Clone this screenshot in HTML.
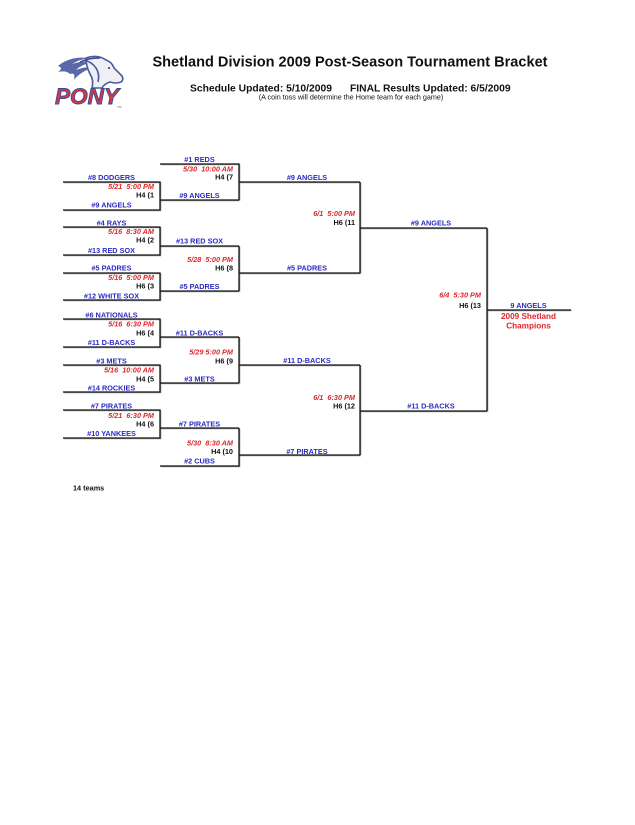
<!DOCTYPE html>
<html>
<head>
<meta charset="utf-8">
<style>
html,body{margin:0;padding:0;background:#fff;}
body{width:635px;height:825px;overflow:hidden;}
svg{display:block;}
text{font-family:"Liberation Sans",Arial,sans-serif;font-weight:bold;white-space:pre;}
.b{fill:#2b2bc4;font-size:7.3px;text-anchor:middle;}
.r{fill:#e0262b;font-size:7.3px;font-style:italic;text-anchor:end;}
.k{fill:#111;font-size:7.3px;text-anchor:end;}
</style>
</head>
<body>
<svg width="635" height="825" viewBox="0 0 635 825" xmlns="http://www.w3.org/2000/svg">
<!-- Logo -->
<g>
  <path d="M58 66 Q70 56 88 58 Q78 60 72 64 Q84 60 94 62 Q82 64 76 70 Q86 66 92 68 Q80 72 74 80 Q76 72 70 74 Q66 70 58 72 Q64 68 58 66 Z" fill="#5a67a8"/>
  <path d="M86 58 Q98 54 106 60 Q112 62 114 68 L122 76 Q124 80 121 82 Q116 84 110 82 Q104 84 102 88 L92 88 Q94 80 90 74 Q86 66 86 58 Z" fill="#eef0f6" stroke="#4d5a9c" stroke-width="1.6"/>
  <path d="M84 60 Q92 62 96 68 Q100 74 98 82" fill="none" stroke="#4d5a9c" stroke-width="1.6"/>
  <path d="M80 62 Q88 58 100 58" fill="none" stroke="#3d4a8e" stroke-width="1.4"/>
  <circle cx="109" cy="68" r="1" fill="#333"/>
  <text x="55" y="104" style="font-size:22px;font-style:italic;fill:#d9363e;stroke:#3a4a9a;stroke-width:0.9px;" textLength="64" lengthAdjust="spacingAndGlyphs">PONY</text>
  <text x="117" y="108" style="font-size:3px;fill:#666;font-weight:normal;">TM</text>
</g>
<!-- Header -->
<text x="350" y="66.5" style="font-size:14.55px;fill:#111;text-anchor:middle;">Shetland Division 2009 Post-Season Tournament Bracket</text>
<text x="190" y="91.5" style="font-size:10.3px;fill:#111;">Schedule Updated: 5/10/2009</text>
<text x="350" y="91.5" style="font-size:10.3px;fill:#111;">FINAL Results Updated: 6/5/2009</text>
<text x="351" y="99.5" style="font-size:7.2px;fill:#111;font-weight:normal;text-anchor:middle;">(A coin toss will determine the Home team for each game)</text>

<!-- Bracket lines -->
<g stroke="#9a9a9a" stroke-width="1" fill="none" transform="translate(0.8,0.8)">
  <path d="M63 182H160V210H63 M160 200H239 M63 227H160V255H63 M160 246H239 M63 273H160V300H63 M160 291H239 M160 164H239V200 M239 182H360 M239 246V291 M239 273H360 M360 182V273 M360 228H487 M63 319H160V347H63 M160 337H239 M63 365H160V392H63 M160 383H239 M239 337V383 M239 365H360 M63 410H160V438H63 M160 428H239 M160 466H239V428 M239 455H360 M360 365V455 M360 411H487 M487 228V411 M487 310H571"/>
</g>
<g stroke="#151515" stroke-width="1.3" fill="none">
  <path d="M63 182H160V210H63 M160 200H239 M63 227H160V255H63 M160 246H239 M63 273H160V300H63 M160 291H239 M160 164H239V200 M239 182H360 M239 246V291 M239 273H360 M360 182V273 M360 228H487 M63 319H160V347H63 M160 337H239 M63 365H160V392H63 M160 383H239 M239 337V383 M239 365H360 M63 410H160V438H63 M160 428H239 M160 466H239V428 M239 455H360 M360 365V455 M360 411H487 M487 228V411 M487 310H571"/>
</g>

<!-- Round 1 teams -->
<text class="b" x="111.5" y="180">#8 DODGERS</text>
<text class="b" x="111.5" y="207.5">#9 ANGELS</text>
<text class="b" x="111.5" y="225.5">#4 RAYS</text>
<text class="b" x="111.5" y="253">#13 RED SOX</text>
<text class="b" x="111.5" y="270.7">#5 PADRES</text>
<text class="b" x="111.5" y="298.4">#12 WHITE SOX</text>
<text class="b" x="111.5" y="317.7">#6 NATIONALS</text>
<text class="b" x="111.5" y="345">#11 D-BACKS</text>
<text class="b" x="111.5" y="363.4">#3 METS</text>
<text class="b" x="111.5" y="390.7">#14 ROCKIES</text>
<text class="b" x="111.5" y="408.7">#7 PIRATES</text>
<text class="b" x="111.5" y="436">#10 YANKEES</text>

<!-- Round 2 teams -->
<text class="b" x="199.5" y="162">#1 REDS</text>
<text class="b" x="199.5" y="198">#9 ANGELS</text>
<text class="b" x="199.5" y="243.5">#13 RED SOX</text>
<text class="b" x="199.5" y="289">#5 PADRES</text>
<text class="b" x="199.5" y="335.7">#11 D-BACKS</text>
<text class="b" x="199.5" y="381.4">#3 METS</text>
<text class="b" x="199.5" y="426.7">#7 PIRATES</text>
<text class="b" x="199.5" y="463.4">#2 CUBS</text>

<!-- Round 3 teams -->
<text class="b" x="307" y="180">#9 ANGELS</text>
<text class="b" x="307" y="270.5">#5 PADRES</text>
<text class="b" x="307" y="363">#11 D-BACKS</text>
<text class="b" x="307" y="454">#7 PIRATES</text>

<!-- Round 4 teams -->
<text class="b" x="431" y="225.5">#9 ANGELS</text>
<text class="b" x="431" y="408.7">#11 D-BACKS</text>

<!-- Champion -->
<text class="b" x="528.5" y="308">9 ANGELS</text>
<text x="528.5" y="319" style="font-size:8.2px;fill:#e0262b;text-anchor:middle;">2009 Shetland</text>
<text x="528.5" y="328.5" style="font-size:8.2px;fill:#e0262b;text-anchor:middle;">Champions</text>

<!-- Round 1 games -->
<text class="r" x="154" y="189">5/21  5:00 PM</text>
<text class="k" x="154" y="197.5">H4 (1</text>
<text class="r" x="154" y="234">5/16  8:30 AM</text>
<text class="k" x="154" y="242.5">H4 (2</text>
<text class="r" x="154" y="280">5/16  5:00 PM</text>
<text class="k" x="154" y="288.7">H6 (3</text>
<text class="r" x="154" y="326.4">5/16  6:30 PM</text>
<text class="k" x="154" y="335.7">H6 (4</text>
<text class="r" x="154" y="372.7">5/16  10:00 AM</text>
<text class="k" x="154" y="381.4">H4 (5</text>
<text class="r" x="154" y="418">5/21  6:30 PM</text>
<text class="k" x="154" y="426.7">H4 (6</text>

<!-- Round 2 games -->
<text class="r" x="233" y="171.3">5/30  10:00 AM</text>
<text class="k" x="233" y="179.5">H4 (7</text>
<text class="r" x="233" y="262">5/28  5:00 PM</text>
<text class="k" x="233" y="270.5">H6 (8</text>
<text class="r" x="233" y="354.7">5/29 5:00 PM</text>
<text class="k" x="233" y="363.7">H6 (9</text>
<text class="r" x="233" y="445.4">5/30  8:30 AM</text>
<text class="k" x="233" y="454">H4 (10</text>

<!-- Round 3 games -->
<text class="r" x="355" y="216">6/1  5:00 PM</text>
<text class="k" x="355" y="225">H6 (11</text>
<text class="r" x="355" y="400">6/1  6:30 PM</text>
<text class="k" x="355" y="408.7">H6 (12</text>

<!-- Final game -->
<text class="r" x="481" y="297.5">6/4  5:30 PM</text>
<text class="k" x="481" y="308">H6 (13</text>

<text x="73" y="490.7" style="font-size:7.3px;fill:#111;">14 teams</text>
</svg>
</body>
</html>
